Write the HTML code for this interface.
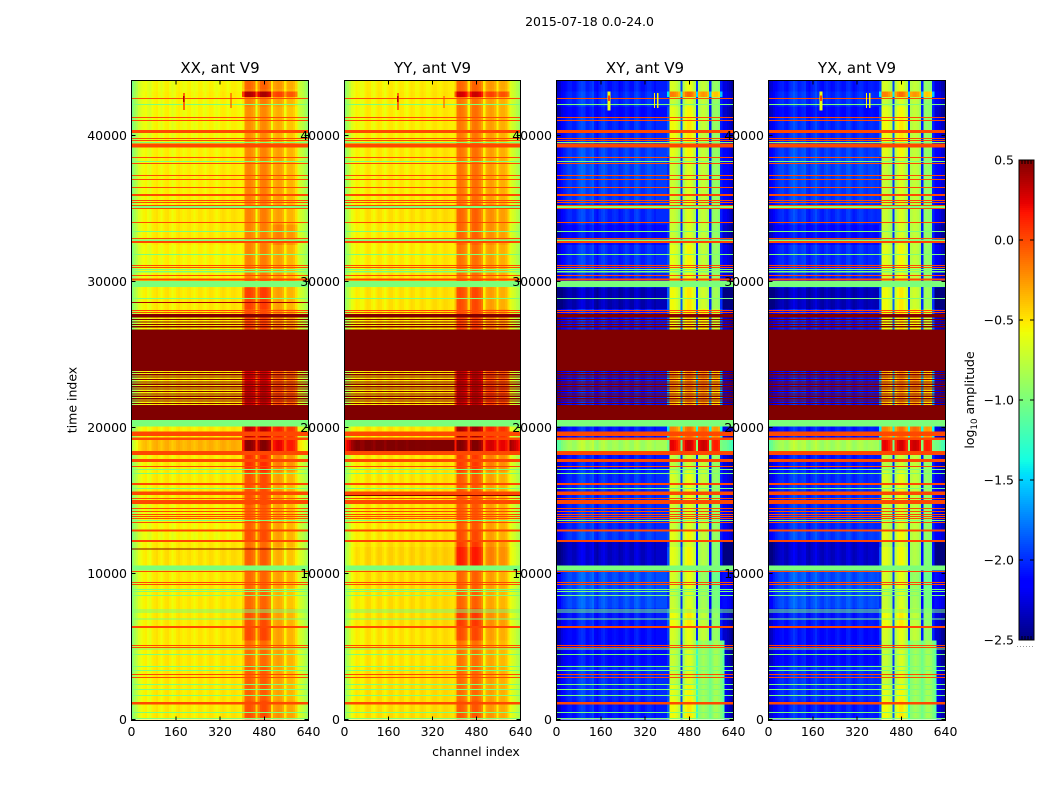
<!DOCTYPE html>
<html lang="en">
<head>
<meta charset="utf-8">
<title>2015-07-18 0.0-24.0</title>
<style>
html,body{margin:0;padding:0;background:#fff;}
svg{display:block;}
text{font-family:"DejaVu Sans","Liberation Sans",sans-serif;fill:#000;}
</style>
</head>
<body>
<svg id="chart" xmlns="http://www.w3.org/2000/svg" width="1050" height="800" viewBox="0 0 1050 800">
  <rect x="0" y="0" width="1050" height="800" fill="#fff"/>
  <text x="589.5" y="26" font-size="12.5" text-anchor="middle">2015-07-18 0.0-24.0</text>
  <g id="panels"></g>
  <text x="476" y="756" font-size="12.5" text-anchor="middle">channel index</text>
  <text x="0" y="0" font-size="12.5" text-anchor="middle" transform="translate(76.5,400) rotate(-90)">time index</text>
  <g id="colorbar"></g>
  <text x="0" y="0" font-size="12.5" text-anchor="middle" transform="translate(974,400) rotate(-90)">log<tspan font-size="8.7" dy="3">10</tspan><tspan dy="-3"> amplitude</tspan></text>
  <line x1="1017" x2="1035" y1="646.5" y2="646.5" stroke="#9a9a9a" stroke-width="1" stroke-dasharray="1 2"/>
</svg>
<script>
// ---- categories and tick labels ----
const panelTitles = ["XX, ant V9", "YY, ant V9", "XY, ant V9", "YX, ant V9"];
const channelTicks = [0, 160, 320, 480, 640];
const timeTicks = [0, 10000, 20000, 30000, 40000];
const colorTicks = [0.5, 0.0, -0.5, -1.0, -1.5, -2.0, -2.5];
const colorTickLabels = ["0.5", "0.0", "\u22120.5", "\u22121.0", "\u22121.5", "\u22122.0", "\u22122.5"];
const channelBinWidth = 8;
const timeMax = 43800;
const channelMax = 640;

// ---- log10 amplitude per 8-channel bin ----
const xxProfile = [-1.0,-0.86,-0.78,-0.68,-0.62,-0.58,-0.56,-0.61,-0.64,-0.56,-0.53,-0.51,-0.56,-0.61,-0.56,-0.52,-0.51,-0.56,-0.62,-0.58,-0.53,-0.51,-0.54,-0.58,-0.56,-0.53,-0.52,-0.56,-0.6,-0.56,-0.52,-0.52,-0.56,-0.59,-0.54,-0.51,-0.52,-0.56,-0.59,-0.56,-0.52,-0.5,-0.52,-0.56,-0.54,-0.51,-0.5,-0.52,-0.54,-0.56,
 -0.45,-0.15,-0.12,-0.12,-0.15,-0.2,-0.52,-0.25,-0.12,-0.1,-0.1,-0.15,-0.22,-0.54,-0.32,-0.28,-0.26,-0.28,-0.34,-0.54,-0.36,-0.34,-0.34,-0.38,-0.48,-0.66,-0.72,-0.76,-0.82,-0.92];
const yyProfile = [-0.95,-0.82,-0.74,-0.64,-0.59,-0.54,-0.56,-0.6,-0.6,-0.53,-0.5,-0.51,-0.57,-0.6,-0.54,-0.5,-0.51,-0.56,-0.6,-0.54,-0.5,-0.5,-0.54,-0.58,-0.54,-0.5,-0.51,-0.56,-0.58,-0.53,-0.49,-0.51,-0.56,-0.56,-0.51,-0.49,-0.52,-0.56,-0.56,-0.52,-0.49,-0.49,-0.52,-0.54,-0.51,-0.48,-0.49,-0.51,-0.53,-0.54,
 -0.45,-0.12,-0.1,-0.12,-0.16,-0.22,-0.52,-0.2,-0.1,-0.08,-0.1,-0.16,-0.24,-0.54,-0.32,-0.28,-0.26,-0.28,-0.34,-0.54,-0.35,-0.32,-0.32,-0.36,-0.48,-0.64,-0.7,-0.74,-0.8,-0.88];
const xyProfile = [-2.3,-2.25,-2.15,-2.1,-2.05,-2.0,-2.0,-2.05,-2.05,-1.98,-1.92,-1.88,-1.9,-2.0,-2.0,-1.95,-1.9,-2.05,-2.1,-2.0,-1.95,-1.92,-1.98,-2.05,-2.05,-2.0,-1.98,-2.0,-2.08,-2.05,-2.0,-1.95,-1.98,-2.05,-2.05,-1.95,-1.92,-1.98,-2.05,-2.05,-2.0,-1.95,-1.95,-2.0,-2.05,-2.0,-2.0,-2.0,-2.0,-2.0,
 -2.0,-0.72,-0.72,-0.75,-0.8,-0.9,-2.0,-0.85,-0.7,-0.65,-0.65,-0.72,-0.85,-2.0,-0.82,-0.76,-0.73,-0.77,-0.86,-2.05,-0.96,-0.9,-0.9,-0.96,-2.05,-2.2,-2.2,-2.25,-2.3,-2.4];
const yxProfile = [-2.28,-2.22,-2.14,-2.08,-2.03,-2.0,-1.98,-2.04,-2.06,-1.98,-1.93,-1.87,-1.92,-2.0,-1.98,-1.94,-1.92,-2.04,-2.08,-2.0,-1.96,-1.9,-1.98,-2.04,-2.06,-2.0,-1.96,-2.0,-2.06,-2.04,-1.98,-1.95,-2.0,-2.04,-2.03,-1.95,-1.93,-2.0,-2.06,-2.03,-1.98,-1.95,-1.96,-2.02,-2.04,-2.0,-1.98,-2.0,-2.02,-2.0,
 -2.0,-0.74,-0.72,-0.74,-0.8,-0.88,-1.98,-0.84,-0.72,-0.66,-0.66,-0.74,-0.86,-1.98,-0.8,-0.75,-0.74,-0.78,-0.87,-2.03,-0.94,-0.9,-0.92,-0.98,-2.03,-2.18,-2.2,-2.24,-2.32,-2.38];
// Cross-hand upper-band values (bins 63..75) below time 5400, where the gaps fill in
const crossQuietHigh = [-1.25,-0.95,-0.9,-0.85,-0.9,-0.95,-1.05,-0.95,-0.85,-0.85,-0.9,-1.0,-1.15];
const crossQuietTime = 5400;
const crossQuietFirstBin = 63;

// ---- time segments and per-segment offsets (left of band, low sub-band, high sub-band) ----
const segmentStarts = [0,1300,2400,3700,5400,6400,7600,9000,10200,10550,11800,12300,13000,14700,17000,18400,19300,20500,21540,22800,23900,26700,27800,28100,29600,30100,31000,32500,33900,35300,37000,38600,39500,41200,42000,42620,43000,43200];
const xxLeft = [.03,.03,.03,.03,.03,.03,.03,.03,.03,.05,.03,-.02,0,.03,.03,.2,.03,.03,.03,.03,.03,.03,.03,.03,.03,0,0,.03,.03,.01,.01,0,-.02,-.02,-.02,0,-.02,-.02];
const xxLow  = [.1,.05,.05,0,.12,.1,.02,.02,0,.05,0,.1,.05,.1,.2,.6,.45,.6,.45,.4,.6,.1,.1,.15,0,-.06,-.06,-.06,-.06,-.06,-.07,-.08,-.1,-.1,-.05,.5,0,.03];
const xxHigh = [.05,0,0,0,0,0,-.05,0,0,-.05,0,0,0,0,.1,.5,.4,.6,.25,.2,.6,.05,.05,0,0,0,0,.1,0,0,0,0,-.05,-.05,0,.3,0,.03];
const yyLeft = [.05,.05,.05,.03,.03,.05,.05,.06,.03,.08,.05,.03,.03,.03,.03,1.05,.03,.03,.03,.03,.03,.03,.03,.03,.03,.03,.01,.01,.03,.01,.01,.01,0,0,0,.01,0,0];
const yyLow  = [.05,0,0,-.03,.1,.15,.02,.02,0,.25,.15,.1,.05,.05,.15,.6,.5,.6,.45,.45,.6,.1,.1,.1,0,-.03,-.03,.02,.02,-.03,-.03,-.03,-.05,-.03,-.03,.4,.02,.02];
const yyHigh = [.02,0,0,-.03,0,.05,-.02,0,0,.1,.05,0,0,0,.1,.55,.4,.6,.3,.25,.6,.05,.05,0,0,0,0,.05,.05,0,0,0,0,0,0,.3,0,.02];
const crossLeft = [-.05,0,0,-.1,-.1,-.05,.1,.1,0,-.3,-.3,.05,0,0,-.05,1.15,-.05,0,-.05,-.05,0,-.05,-.05,-.35,0,0,0,-.1,0,.05,.08,.05,0,-.1,0,0,-.05,-.05];
const crossLow  = [.15,.1,0,0,.05,.15,0,.05,0,.1,0,.1,0,.05,-.05,.95,.55,1,.35,.4,1,.15,.15,.15,.05,.05,.1,0,0,0,0,.1,.15,.1,0,.55,.05,.05];
const crossHigh = [.1,.15,.1,0,0,0,-.1,-.15,0,-.05,-.05,0,0,0,0,1.05,.65,1,.45,.5,1,.2,.2,.05,0,0,0,0,0,0,0,0,0,0,0,.5,0,0];

// ---- rows flagged as constant across all channels: [time start, time end] ----
const orangeRows = [[42504,42573],[41203,41271],[40998,41066],[40175,40381],[39764,39833],[39627,39696],[39182,39456],[38463,38531],[38052,38120],[37230,37298],[36956,37024],[36408,36476],[35860,35997],[35517,35586],[35380,35449],[35175,35243],[34969,35038],[34010,34079],[32914,32983],[32640,32777],[31065,31133],[30928,30996],[30380,30448],[30072,30209],[27982,28051],[27845,27914],[19420,19714],[19146,19303],[18118,18392],[17639,17844],[17296,17365],[16063,16200],[15378,15618],[15104,15173],[14762,15036],[14419,14488],[14214,14282],[14008,14077],[13871,13940],[13734,13803],[13460,13529],[12878,13015],[12159,12296],[10104,10172],[9350,9419],[9213,9282],[6268,6405],[5035,5103],[4898,4966],[3048,3117],[2843,2911],[1028,1199]];
const greenRows = [[42093,42162],[39490,39559],[38189,38257],[35038,35175],[33394,33462],[32777,32880],[31818,31887],[30791,30859],[30620,30722],[29626,30037],[28804,28873],[20070,20516],[17091,17159],[16817,16885],[15789,15858],[13597,13666],[10207,10549],[8871,8939],[8734,8802],[8460,8528],[7467,7535],[7330,7398],[6850,6919],[4795,4864],[4418,4487],[3596,3665],[3322,3391],[2363,2432],[2021,2089],[1610,1678],[445,514],[34,103]];
const saturatedBlocks = [[27551,27777],[23872,26729],[20516,21543]];
const saturatedStripes = [27352,27188,27024,26860,23736,23572,23408,23244,23080,22916,22752,22588,22424,22260,22096,21932,21768,21604];
const orangeValue = 0.0;
const greenValue = -1.0;
const saturatedValue = 0.5;
const stripeDuration = 82;

// ---- isolated features per panel: [channel start, channel end, time start, time end, value] ----
const xxSpikes = [[186,194,41750,42900,-0.1],[186,192,42300,42700,0.35],[358,362,41900,42900,0.1],[0,640,28515,28585,0.4],[0,640,11650,11715,0.5]];
const yySpikes = [[190,198,41750,42900,-0.1],[190,196,42300,42700,0.35],[360,364,41900,42700,0.0],[0,640,15300,15370,0.5]];
const xySpikes = [[184,196,41700,43000,-0.6],[186,194,42350,42750,0.0],[352,357,41900,42900,-0.55],[364,369,41900,42900,-0.55]];
const yxSpikes = [[184,196,41700,43000,-0.6],[186,194,42350,42750,0.0],[352,357,41900,42900,-0.55],[364,369,41900,42900,-0.55]];

// ---- panel wiring ----
const panelSeries = [
  {profile: xxProfile, left: xxLeft, low: xxLow, high: xxHigh, spikes: xxSpikes, quiet: false},
  {profile: yyProfile, left: yyLeft, low: yyLow, high: yyHigh, spikes: yySpikes, quiet: false},
  {profile: xyProfile, left: crossLeft, low: crossLow, high: crossHigh, spikes: xySpikes, quiet: true},
  {profile: yxProfile, left: crossLeft, low: crossLow, high: crossHigh, spikes: yxSpikes, quiet: true}
];

// ---- layout and scales ----
const SVG_NS = "http://www.w3.org/2000/svg";
const panelLefts = [131.5, 344.5, 556.5, 768.5];
const panelWidths = [177, 176, 177, 177];
const plotTop = 80.5;
const plotBottom = 720.5;
const timeZeroY = 719.5;
const pxPerTime = 0.0146;
const lowBandStartBin = 50;
const highBandStartBin = 63;
const bandEndBin = 75;

function xScale(panelIndex, channel) {
  return panelLefts[panelIndex] + channel / channelMax * panelWidths[panelIndex];
}
function yScale(time) {
  return Math.max(plotTop, Math.min(plotBottom, timeZeroY - time * pxPerTime));
}
function jetPiece(t, pts) {
  for (let i = 1; i < pts.length; i++) {
    if (t <= pts[i][0]) {
      const a = pts[i - 1], b = pts[i];
      return a[1] + (b[1] - a[1]) * (t - a[0]) / (b[0] - a[0]);
    }
  }
  return pts[pts.length - 1][1];
}
const jetRed = [[0,0],[0.35,0],[0.66,1],[0.89,1],[1,0.5]];
const jetGreen = [[0,0],[0.125,0],[0.375,1],[0.64,1],[0.91,0],[1,0]];
const jetBlue = [[0,0.5],[0.11,1],[0.34,1],[0.65,0],[1,0]];
function colorScale(value) {
  const t = Math.max(0, Math.min(1, (value + 2.5) / 3));
  const r = Math.round(255 * jetPiece(t, jetRed));
  const g = Math.round(255 * jetPiece(t, jetGreen));
  const b = Math.round(255 * jetPiece(t, jetBlue));
  return "rgb(" + r + "," + g + "," + b + ")";
}
function makeSvg(tag, attrs, parent) {
  const el = document.createElementNS(SVG_NS, tag);
  for (const k in attrs) el.setAttribute(k, attrs[k]);
  parent.appendChild(el);
  return el;
}

function binValue(series, bin, seg) {
  const time = segmentStarts[seg];
  if (series.quiet && time < crossQuietTime && bin >= crossQuietFirstBin && bin <= bandEndBin) {
    return crossQuietHigh[bin - crossQuietFirstBin];
  }
  let offset = series.left[seg];
  if (bin >= lowBandStartBin && bin < highBandStartBin) offset = series.low[seg];
  else if (bin >= highBandStartBin && bin < bandEndBin) offset = series.high[seg];
  return series.profile[bin] + offset;
}

function drawRow(layer, panelIndex, range, value) {
  const yTop = yScale(range[1]);
  const row = makeSvg("rect", {
    x: panelLefts[panelIndex], y: yTop, width: panelWidths[panelIndex],
    height: Math.max(1, yScale(range[0]) - yTop), fill: colorScale(value)
  }, layer);
  return row;
}

const panelsRoot = document.getElementById("panels");
panelTitles.forEach(function (title, p) {
  const series = panelSeries[p];
  const x0 = panelLefts[p];
  const panelWidth = panelWidths[p];
  const panel = makeSvg("g", {}, panelsRoot);
  
  

  const layer = makeSvg("g", {"shape-rendering": "crispEdges"}, panel);
  
  

  // heatmap cells
  segmentStarts.forEach(function (start, s) {
    const end = s + 1 < segmentStarts.length ? segmentStarts[s + 1] : timeMax;
    const yTop = yScale(end);
    const h = yScale(start) - yTop;
    series.profile.forEach(function (_, b) {
      const xa = xScale(p, b * channelBinWidth);
      const xb = xScale(p, (b + 1) * channelBinWidth);
      const cell = makeSvg("rect", {x: xa, y: yTop, width: xb - xa, height: h, fill: colorScale(binValue(series, b, s))}, layer);
      
      
    });
  });

  // flagged rows
  saturatedBlocks.forEach(function (r) {
    const el = drawRow(layer, p, r, saturatedValue);
    
    
  });
  saturatedStripes.forEach(function (t) {
    const el = drawRow(layer, p, [t, t + stripeDuration], saturatedValue);
    
    
  });
  greenRows.forEach(function (r) {
    const el = drawRow(layer, p, r, greenValue);
    
    
  });
  orangeRows.forEach(function (r) {
    const el = drawRow(layer, p, r, orangeValue);
    
    
  });
  series.spikes.forEach(function (sp) {
    const xa = xScale(p, sp[0]);
    const yTop = yScale(sp[3]);
    const el = makeSvg("rect", {x: xa, y: yTop, width: xScale(p, sp[1]) - xa, height: Math.max(1, yScale(sp[2]) - yTop), fill: colorScale(sp[4])}, layer);
    
    
  });

  // frame
  const frame = makeSvg("rect", {x: x0, y: plotTop, width: panelWidth, height: plotBottom - plotTop, fill: "none", stroke: "#000", "stroke-width": 1, "shape-rendering": "crispEdges"}, panel);
  
  

  // x ticks
  channelTicks.forEach(function (c) {
    const x = xScale(p, c);
    const t1 = makeSvg("line", {x1: x, x2: x, y1: plotBottom, y2: plotBottom - 4, stroke: "#000", "shape-rendering": "crispEdges"}, panel);
    
    
    const t2 = makeSvg("line", {x1: x, x2: x, y1: plotTop, y2: plotTop + 4, stroke: "#000", "shape-rendering": "crispEdges"}, panel);
    
    
    const lab = makeSvg("text", {x: x, y: 736, "font-size": 12.5, "text-anchor": "middle"}, panel);
    lab.textContent = String(c);
    
    
  });

  // y ticks
  timeTicks.forEach(function (t) {
    const y = yScale(t);
    const t1 = makeSvg("line", {x1: x0, x2: x0 + 4, y1: y, y2: y, stroke: "#000", "shape-rendering": "crispEdges"}, panel);
    
    
    const t2 = makeSvg("line", {x1: x0 + panelWidth - 4, x2: x0 + panelWidth, y1: y, y2: y, stroke: "#000", "shape-rendering": "crispEdges"}, panel);
    
    
    const lab = makeSvg("text", {x: x0 - 4.5, y: y + 4.5, "font-size": 12.5, "text-anchor": "end"}, panel);
    lab.textContent = String(t);
    
    
  });

  const titleEl = makeSvg("text", {x: x0 + panelWidth / 2, y: 73, "font-size": 15, "text-anchor": "middle"}, panel);
  titleEl.textContent = title;
  
  
});

// ---- colorbar ----
const cbRoot = document.getElementById("colorbar");
const cbLeft = 1019, cbRight = 1034, cbTop = 160, cbBottom = 640;
function cbY(value) {
  return cbBottom - (value + 2.5) / 3 * (cbBottom - cbTop);
}
const cbLayer = makeSvg("g", {"shape-rendering": "crispEdges"}, cbRoot);


for (let py = cbTop; py < cbBottom; py += 2) {
  const v = -2.5 + (cbBottom - py - 1) / (cbBottom - cbTop) * 3;
  makeSvg("rect", {x: cbLeft, y: py, width: cbRight - cbLeft, height: 2, fill: colorScale(v)}, cbLayer);
}
const cbFrame = makeSvg("rect", {x: cbLeft, y: cbTop, width: cbRight - cbLeft, height: cbBottom - cbTop, fill: "none", stroke: "#000", "shape-rendering": "crispEdges"}, cbRoot);


colorTicks.forEach(function (v, i) {
  const y = cbY(v);
  const a = makeSvg("line", {x1: cbLeft, x2: cbLeft + 4, y1: y, y2: y, stroke: "#000", "shape-rendering": "crispEdges"}, cbRoot);
  
  
  const b = makeSvg("line", {x1: cbRight - 4, x2: cbRight, y1: y, y2: y, stroke: "#000", "shape-rendering": "crispEdges"}, cbRoot);
  
  
  const lab = makeSvg("text", {x: 1014, y: y + 4.5, "font-size": 12.5, "text-anchor": "end", fill: "#000"}, cbRoot);
  lab.textContent = colorTickLabels[i];
  
  
});
[1022, 1025, 1028, 1031].forEach(function (x) {
  makeSvg("line", {x1: x, x2: x, y1: cbTop, y2: cbTop + 4, stroke: "#000", "shape-rendering": "crispEdges"}, cbRoot);
  makeSvg("line", {x1: x, x2: x, y1: cbBottom, y2: cbBottom - 4, stroke: "#000", "shape-rendering": "crispEdges"}, cbRoot);
});
</script>
</body>
</html>
